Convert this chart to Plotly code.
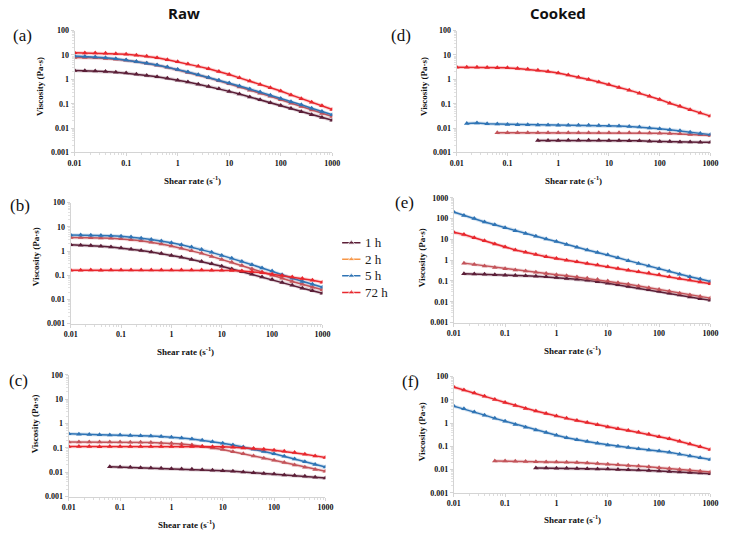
import plotly.graph_objects as go

# ---------------- data ----------------
shear_rate = [0.01, 0.0158, 0.0251, 0.0398, 0.0631, 0.1, 0.158, 0.251, 0.398, 0.631,
              1, 1.58, 2.51, 3.98, 6.31, 10, 15.8, 25.1, 39.8, 63.1,
              100, 158, 251, 398, 631, 1000]
N = None
series_names = ["1 h", "2 h", "5 h", "72 h"]

# (a) Raw
a_1h = [2.3, 2.25, 2.2, 2.1, 1.95, 1.8, 1.62, 1.45, 1.28, 1.1, 0.92, 0.77, 0.63, 0.51, 0.41,
        0.32, 0.25, 0.19, 0.145, 0.11, 0.084, 0.063, 0.047, 0.035, 0.027, 0.021]
a_2h = [7.8, 7.8, 7.6, 7.2, 6.7, 6.0, 5.3, 4.6, 3.8, 3.1, 2.45, 1.9, 1.5, 1.15, 0.88,
        0.66, 0.49, 0.36, 0.27, 0.2, 0.145, 0.105, 0.076, 0.055, 0.04, 0.03]
a_5h = [9.0, 8.7, 8.2, 7.6, 7.0, 6.2, 5.4, 4.6, 3.9, 3.2, 2.5, 2.0, 1.55, 1.2, 0.92,
        0.7, 0.53, 0.4, 0.3, 0.22, 0.165, 0.12, 0.09, 0.065, 0.048, 0.035]
a_72h = [12.2, 12.0, 12.0, 11.8, 11.3, 10.7, 9.8, 8.8, 7.6, 6.4, 5.3, 4.3, 3.4, 2.7, 2.1,
         1.58, 1.15, 0.85, 0.62, 0.45, 0.33, 0.23, 0.16, 0.115, 0.083, 0.058]

# (b) Raw
b_1h = [1.8, 1.75, 1.67, 1.58, 1.45, 1.33, 1.18, 1.05, 0.92, 0.79, 0.66, 0.55, 0.45, 0.37, 0.3,
        0.235, 0.18, 0.14, 0.11, 0.085, 0.067, 0.05, 0.038, 0.029, 0.023, 0.018]
b_2h = [3.6, 3.6, 3.5, 3.45, 3.35, 3.2, 2.95, 2.65, 2.3, 1.95, 1.6, 1.3, 1.02, 0.8, 0.6,
        0.45, 0.34, 0.25, 0.18, 0.135, 0.1, 0.075, 0.055, 0.042, 0.032, 0.025]
b_5h = [4.6, 4.6, 4.5, 4.4, 4.3, 4.1, 3.8, 3.4, 3.0, 2.6, 2.2, 1.8, 1.45, 1.15, 0.88,
        0.66, 0.5, 0.37, 0.27, 0.2, 0.148, 0.105, 0.075, 0.055, 0.042, 0.032]
b_72h = [0.16, 0.16, 0.165, 0.16, 0.165, 0.165, 0.165, 0.165, 0.165, 0.165, 0.165, 0.165, 0.165,
         0.165, 0.16, 0.16, 0.155, 0.15, 0.14, 0.125, 0.11, 0.097, 0.085, 0.073, 0.062, 0.051]

# (c) Raw
c_1h = [N, N, N, N, 0.017, 0.0165, 0.016, 0.0155, 0.015, 0.0145, 0.014, 0.0136, 0.0132, 0.0127,
        0.0122, 0.0116, 0.0109, 0.0102, 0.0096, 0.009, 0.0084, 0.0078, 0.0073, 0.0068, 0.0063, 0.0058]
c_2h = [0.175, 0.175, 0.175, 0.175, 0.175, 0.175, 0.17, 0.17, 0.165, 0.16, 0.155, 0.145, 0.13,
        0.115, 0.1, 0.085, 0.07, 0.058, 0.047, 0.038, 0.031, 0.025, 0.02, 0.016, 0.013, 0.011]
c_5h = [0.38, 0.36, 0.355, 0.345, 0.34, 0.335, 0.325, 0.315, 0.305, 0.29, 0.275, 0.255, 0.23,
        0.205, 0.18, 0.155, 0.13, 0.108, 0.088, 0.071, 0.057, 0.045, 0.035, 0.027, 0.021, 0.0165]
c_72h = [0.115, 0.115, 0.115, 0.11, 0.115, 0.115, 0.115, 0.115, 0.115, 0.115, 0.115, 0.115, 0.115,
         0.115, 0.11, 0.11, 0.105, 0.1, 0.095, 0.088, 0.08, 0.072, 0.064, 0.055, 0.047, 0.04]

# (d) Cooked
d_1h = [N, N, N, N, N, N, N, N, 0.0031, 0.0031, 0.0031, 0.0032, 0.0032, 0.0032, 0.0032, 0.0031,
        0.0031, 0.003, 0.003, 0.0029, 0.0028, 0.0028, 0.0027, 0.0027, 0.0026, 0.0026]
d_2h = [N, N, N, N, 0.0065, 0.0065, 0.0065, 0.0065, 0.0065, 0.0065, 0.0065, 0.0065, 0.0065,
        0.0065, 0.0065, 0.0065, 0.0065, 0.0064, 0.0064, 0.0063, 0.0062, 0.006, 0.0058, 0.0055,
        0.0053, 0.005]
d_5h = [N, 0.0155, 0.016, 0.015, 0.0148, 0.0142, 0.0138, 0.0136, 0.0134, 0.0133, 0.0132, 0.0131,
        0.013, 0.013, 0.0128, 0.0125, 0.0121, 0.0116, 0.011, 0.0102, 0.0094, 0.0086, 0.0077,
        0.0068, 0.006, 0.0054]
d_72h = [3.1, 3.1, 3.1, 3.05, 3.0, 2.95, 2.8, 2.6, 2.35, 2.1, 1.8, 1.5, 1.22, 0.98, 0.78,
         0.62, 0.46, 0.36, 0.27, 0.2, 0.15, 0.105, 0.078, 0.057, 0.042, 0.031]

# (e) Cooked
e_1h = [N, 0.22, 0.215, 0.21, 0.2, 0.19, 0.185, 0.178, 0.17, 0.16, 0.145, 0.133, 0.12, 0.107,
        0.093, 0.078, 0.065, 0.055, 0.046, 0.038, 0.032, 0.026, 0.021, 0.017, 0.014, 0.012]
e_2h = [N, 0.72, 0.62, 0.53, 0.45, 0.39, 0.34, 0.3, 0.26, 0.23, 0.2, 0.18, 0.155, 0.135, 0.117,
        0.1, 0.083, 0.069, 0.057, 0.047, 0.039, 0.032, 0.026, 0.021, 0.018, 0.015]
e_5h = [204, 140, 100, 68, 50, 36, 26, 19, 14, 10.5, 7.8, 5.6, 4.2, 3.1, 2.35,
        1.8, 1.3, 0.95, 0.7, 0.52, 0.39, 0.29, 0.21, 0.16, 0.125, 0.095]
e_72h = [22, 17, 12, 8.5, 6.0, 4.3, 3.1, 2.4, 1.85, 1.45, 1.2, 1.0, 0.83, 0.7, 0.58,
         0.48, 0.4, 0.33, 0.28, 0.24, 0.2, 0.16, 0.13, 0.11, 0.09, 0.074]

# (f) Cooked
f_1h = [N, N, N, N, N, N, N, N, 0.0115, 0.0115, 0.0113, 0.0112, 0.011, 0.0108, 0.0106, 0.0104,
        0.0101, 0.0098, 0.0095, 0.0091, 0.0087, 0.0083, 0.0078, 0.0074, 0.007, 0.0066]
f_2h = [N, N, N, N, 0.023, 0.023, 0.0225, 0.022, 0.0215, 0.021, 0.021, 0.0205, 0.02, 0.019,
        0.018, 0.017, 0.016, 0.015, 0.014, 0.013, 0.012, 0.011, 0.01, 0.0093, 0.0085, 0.0078]
f_5h = [5.4, 4.1, 3.0, 2.2, 1.6, 1.2, 0.88, 0.66, 0.5, 0.39, 0.3, 0.235, 0.19, 0.16, 0.135,
        0.115, 0.1, 0.088, 0.078, 0.07, 0.063, 0.055, 0.046, 0.038, 0.032, 0.027]
f_72h = [36, 27, 20, 14.5, 10.5, 7.7, 5.7, 4.3, 3.3, 2.6, 2.0, 1.6, 1.3, 1.05, 0.85,
         0.68, 0.57, 0.48, 0.4, 0.33, 0.26, 0.21, 0.165, 0.125, 0.095, 0.072]

panel_labels = ["(a)", "(b)", "(c)", "(d)", "(e)", "(f)"]
panel_data = [
    [a_1h, a_2h, a_5h, a_72h],
    [b_1h, b_2h, b_5h, b_72h],
    [c_1h, c_2h, c_5h, c_72h],
    [d_1h, d_2h, d_5h, d_72h],
    [e_1h, e_2h, e_5h, e_72h],
    [f_1h, f_2h, f_5h, f_72h],
]
x_ticks = [0.01, 0.1, 1, 10, 100, 1000]
x_ticktext = ["0.01", "0.1", "1", "10", "100", "1000"]
y_ticks = [0.001, 0.01, 0.1, 1, 10, 100]
y_ticktext = ["0.001", "0.01", "0.1", "1", "10", "100"]
y_ticks_e = [0.001, 0.01, 0.1, 1, 10, 100, 1000]
y_ticktext_e = ["0.001", "0.01", "0.1", "1", "10", "100", "1000"]

# ---------------- style / layout ----------------
W, H = 740, 540
line_colors = ["#5c1f38", "#c4545a", "#2f74b5", "#e8272d"]
legend_colors = ["#5c1f38", "#f79646", "#2f74b5", "#e8272d"]

# pixel boxes: (left, right, top, bottom)
boxes = [
    (69, 332, 27, 151),   # a
    (65, 322, 202, 325),  # b
    (63, 325, 377, 501),  # c
    (459, 718, 27, 151),  # d
    (456, 718, 197, 324), # e
    (456, 718, 379, 497), # f
]
xlabel_pos = [(189, 179), (182, 353), (183, 529), (578, 179), (577, 352), (577, 524)]
ylabel_pos = [(33, 84), (29, 257), (28, 427), (425, 84), (423, 258), (423, 435)]
plabel_pos = [(16, 32), (13, 205), (12, 383), (402, 32), (406, 202), (412, 384)]

serif = "Liberation Serif, Times New Roman, serif"
sans = "Open Sans, Liberation Sans, sans-serif"

minor_vals = []
for p in range(-3, 3):
    for k in range(2, 10):
        minor_vals.append(k * 10 ** p)

fig = go.Figure()
layout = dict(
    width=W, height=H,
    margin=dict(l=0, r=0, t=0, b=0),
    paper_bgcolor="white", plot_bgcolor="white",
    showlegend=False,
)
annotations = []


def ann(x, y, text, font, **kw):
    d = dict(x=x / W, y=1 - y / H, xref="paper", yref="paper", text=text,
             showarrow=False, xanchor="center", yanchor="middle", font=font)
    d.update(kw)
    return d


for i, (data, box) in enumerate(zip(panel_data, boxes)):
    k = i + 1
    xa = "x" if k == 1 else f"x{k}"
    ya = "y" if k == 1 else f"y{k}"
    l, r, t, b = box
    layout[f"xaxis{'' if k == 1 else k}"] = dict(
        type="log", range=[-2, 3], domain=[l / W, r / W], anchor=ya,
        tickmode="array", tickvals=x_ticks, ticktext=x_ticktext,
        showgrid=False, zeroline=False, showline=True, linecolor="#d4d4d4", linewidth=1,
        ticks="outside", ticklen=3, tickcolor="#d4d4d4",
        minor=dict(tickmode="array", tickvals=minor_vals, ticks="outside", ticklen=2,
                   tickcolor="#dcdcdc", showgrid=False),
        tickfont=dict(family=serif, size=8, color="#111", weight="bold"),
    )
    is_e = (k == 5)
    layout[f"yaxis{'' if k == 1 else k}"] = dict(
        type="log", range=[-3, 3] if is_e else [-3, 2],
        domain=[1 - b / H, 1 - t / H], anchor=xa,
        tickmode="array", tickvals=y_ticks_e if is_e else y_ticks,
        ticktext=y_ticktext_e if is_e else y_ticktext,
        showgrid=False, zeroline=False, showline=True, linecolor="#d4d4d4", linewidth=1,
        ticks="outside", ticklen=3, tickcolor="#d4d4d4",
        minor=dict(tickmode="array", tickvals=minor_vals, ticks="outside", ticklen=2,
                   tickcolor="#e2e2e2", showgrid=False),
        tickfont=dict(family=serif, size=8, color="#111", weight="bold"),
    )
    for j, ys in enumerate(data):
        # soft halo
        fig.add_trace(go.Scatter(
            x=shear_rate, y=ys, xaxis=xa, yaxis=ya, mode="lines",
            line=dict(color=line_colors[j], width=3.5), opacity=0.2,
            showlegend=False, hoverinfo="skip", connectgaps=False))
        fig.add_trace(go.Scatter(
            x=shear_rate, y=ys, xaxis=xa, yaxis=ya, mode="lines+markers",
            line=dict(color=line_colors[j], width=1.5),
            marker=dict(symbol="triangle-up", size=5, color=line_colors[j]),
            name=series_names[j], showlegend=False, connectgaps=False))
    xx, yy = xlabel_pos[i]
    annotations.append(ann(xx, yy, "Shear rate (s<sup>-1</sup>)",
                           dict(family=serif, size=9, color="#111", weight="bold")))
    xx, yy = ylabel_pos[i]
    annotations.append(ann(xx, yy, "Viscosity (Pa·s)",
                           dict(family=serif, size=9, color="#111", weight="bold"),
                           textangle=-90))
    xx, yy = plabel_pos[i]
    annotations.append(ann(xx, yy, panel_labels[i],
                           dict(family=serif, size=17, color="#111")))

# ---------- legend (drawn on its own hidden axis, compact like the reference) ----------
leg_top, leg_bot = 236, 300
layout["xaxis7"] = dict(domain=[342 / W, 361 / W], range=[0, 1], visible=False,
                        anchor="y7", fixedrange=True)
layout["yaxis7"] = dict(domain=[1 - leg_bot / H, 1 - leg_top / H], range=[3.4, -0.4],
                        visible=False, anchor="x7", fixedrange=True)
for j, nm in enumerate(series_names):
    fig.add_trace(go.Scatter(
        x=[0, 0.5, 1], y=[j, j, j], xaxis="x7", yaxis="y7", mode="lines+markers",
        line=dict(color=legend_colors[j], width=1.5),
        marker=dict(symbol="triangle-up", size=[0, 6, 0], color=legend_colors[j]),
        showlegend=False, hoverinfo="skip"))
    annotations.append(dict(x=1.0, y=j, xref="x7", yref="y7", text=nm, showarrow=False,
                            xanchor="left", yanchor="middle", xshift=2,
                            font=dict(family=serif, size=13, color="#222")))

annotations.append(ann(181, 9, "Raw", dict(family=sans, size=15, color="#111", weight="bold")))
annotations.append(ann(562, 9, "Cooked", dict(family=sans, size=15, color="#111", weight="bold")))
layout["annotations"] = annotations
fig.update_layout(**layout)
fig.write_html("out.html", config={"displayModeBar": False},
               post_script="document.body.style.margin='0';document.body.style.overflow='hidden';")
